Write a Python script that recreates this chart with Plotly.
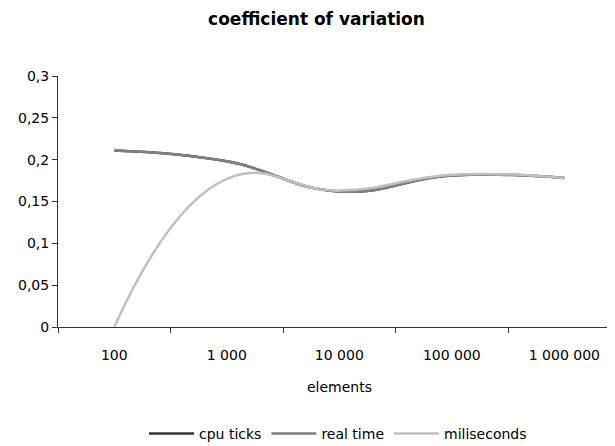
import plotly.graph_objects as go

categories = ["100", "1 000", "10 000", "100 000", "1 000 000"]
cpu_ticks = [0.211, 0.198, 0.162, 0.181, 0.178]
real_time = [0.211, 0.198, 0.162, 0.181, 0.178]
miliseconds = [0.0, 0.177, 0.163, 0.182, 0.178]

series = [
    ("cpu ticks", cpu_ticks, "#333333"),
    ("real time", real_time, "#808080"),
    ("miliseconds", miliseconds, "#c0c0c0"),
]

fig = go.Figure()
for name, vals, color in series:
    fig.add_trace(go.Scatter(
        x=categories, y=vals, name=name, mode="lines",
        line=dict(color=color, width=2.5, shape="spline", smoothing=1.3),
    ))

# page body has an 8px default margin: figure is drawn from (8, 8)
W, H = 607, 438
font = "DejaVu Sans"
fig.update_layout(
    width=W, height=H,
    margin=dict(l=50, r=0, t=68, b=119, autoexpand=False),
    paper_bgcolor="white", plot_bgcolor="white",
    separators=", ",
    font=dict(family=font, size=14, color="black"),
    title=dict(text="<b>coefficient of variation</b>", x=(316.5 - 8) / W, xref="container",
               xanchor="center", y=1 - 11.5 / H, yref="container", yanchor="middle",
               font=dict(family=font, size=17, color="black")),
    showlegend=True,
    legend=dict(orientation="h", x=(338 - 58) / 557, xanchor="center",
                y=-(434 - 327) / 251, yanchor="middle",
                font=dict(family=font, size=14), bgcolor="rgba(0,0,0,0)",
                traceorder="normal", itemwidth=45),
    xaxis=dict(type="category", range=[-0.5, 4.45], tickson="boundaries",
               ticks="outside", ticklen=5, tickcolor="#333333", tickwidth=1,
               showline=True, linecolor="#333333", linewidth=1, automargin=False,
               showgrid=False, zeroline=False, ticklabelstandoff=15,
               tickfont=dict(family=font, size=14)),
    yaxis=dict(range=[0, 0.3], dtick=0.05, tick0=0, ticks="outside", ticklen=5,
               tickcolor="#333333", showline=True, linecolor="#333333", linewidth=1,
               automargin=False, showgrid=False, zeroline=False,
               tickfont=dict(family=font, size=14)),
    annotations=[dict(text="elements", xref="paper", yref="paper",
                      x=(339 - 58) / 557, y=-(387 - 327) / 251,
                      xanchor="center", yanchor="middle", showarrow=False,
                      font=dict(family=font, size=14))],
)

fig.write_html("out.html")
